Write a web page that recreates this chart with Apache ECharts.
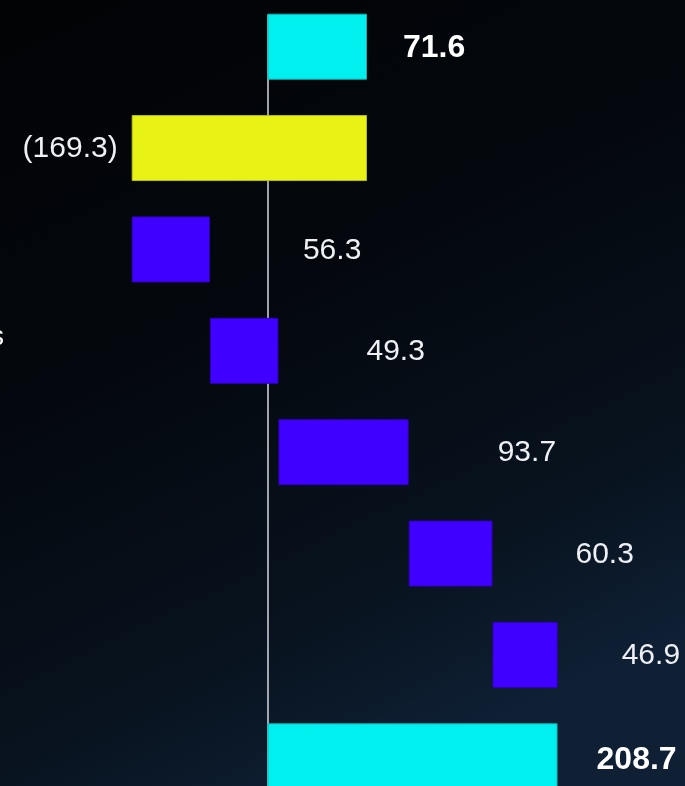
<!DOCTYPE html>
<html><head><meta charset="utf-8">
<script src="https://cdn.jsdelivr.net/npm/echarts@6/dist/echarts.min.js"></script>
<style>html,body{margin:0;padding:0;background:#04060a}#c{width:685px;height:786px}</style>
</head><body><div id="c"></div>
<script>
// ---- data ----
const categories = ['Opening', 'Decrease', 'Growth', 'Acquisitions', 'Pricing', 'Volume', 'Other', 'Closing'];
const values = [71.6, -169.3, 56.3, 49.3, 93.7, 60.3, 46.9, 208.7];
const isTotal = [true, false, false, false, false, false, false, true];
const labelTexts = ['71.6', '(169.3)', '56.3', '49.3', '93.7', '60.3', '46.9', '208.7'];

// ---- styling ----
const labelGap = [36, 14, 93, 88, 89, 83, 64, 39];
const COL_TOTAL = '#00f0f0', COL_NEG = '#e8f214', COL_POS = '#4000ff';
const BORD_TOTAL = '#0fb5b5', BORD_NEG = '#b8c010', BORD_POS = '#3000c0';
const FONT = '"Liberation Sans", Arial, Helvetica, sans-serif';
const xMin = -183.8, xMax = 300.4;

// waterfall bases
const bases = [];
let cum = 0;
values.forEach((v, i) => {
  if (isTotal[i]) { bases.push(0); cum = v; }
  else { bases.push(cum); cum += v; }
});

const mainData = values.map((v, i) => {
  const total = isTotal[i];
  const color = total ? COL_TOTAL : (v < 0 ? COL_NEG : COL_POS);
  const border = total ? BORD_TOTAL : (v < 0 ? BORD_NEG : BORD_POS);
  return {
    value: v,
    itemStyle: { color: color, borderColor: border, borderWidth: 1 },
    label: {
      show: true,
      position: v < 0 ? 'left' : 'right',
      distance: labelGap[i],
      formatter: labelTexts[i],
      color: total ? '#ffffff' : '#eef0f4',
      fontSize: total ? 32 : 30,
      fontWeight: total ? 'bold' : 'normal',
      fontFamily: FONT,
      offset: [0, total && i === values.length - 1 ? 4 : 1]
    }
  };
});

const chart = echarts.init(document.getElementById('c'), null, { renderer: 'canvas' });
chart.setOption({
  animation: false,
  backgroundColor: new echarts.graphic.LinearGradient(0, 0, 0.55, 1, [
    { offset: 0, color: '#020305' },
    { offset: 0.45, color: '#04080e' },
    { offset: 0.8, color: '#08131f' },
    { offset: 1, color: '#0f2035' }
  ]),
  grid: [
    { left: 12, right: 0, top: -4, height: 811, containLabel: false, outerBoundsMode: 'none' },
    { left: 12, right: 0, top: 15, bottom: 0, containLabel: false, outerBoundsMode: 'none' }
  ],
  xAxis: [
    { type: 'value', gridIndex: 0, min: xMin, max: xMax, show: false },
    { type: 'value', gridIndex: 1, min: xMin, max: xMax, axisLine: { show: false }, axisTick: { show: false }, axisLabel: { show: false }, splitLine: { show: false } }
  ],
  yAxis: [
    {
      type: 'category', gridIndex: 0, data: categories, inverse: true,
      axisLine: { show: false }, axisTick: { show: false }, splitLine: { show: false },
      axisLabel: {
        show: true, margin: 8, color: '#ffffff', fontSize: 28, fontFamily: FONT,
        verticalAlign: 'bottom',
        formatter: (val, idx) => (idx === 3 ? val : '')
      }
    },
    {
      type: 'value', gridIndex: 1, min: 0, max: 1,
      axisLine: { show: true, onZero: true, lineStyle: { color: '#c9ccd2', width: 1.6 } },
      axisTick: { show: false }, axisLabel: { show: false }, splitLine: { show: false }
    }
  ],
  series: [
    {
      type: 'line', xAxisIndex: 1, yAxisIndex: 1, data: [], silent: true
    },
    {
      name: 'base', type: 'bar', xAxisIndex: 0, yAxisIndex: 0,
      stack: 'wf', stackStrategy: 'all', barWidth: 66, silent: true,
      itemStyle: { color: 'rgba(0,0,0,0)', borderWidth: 0 },
      data: bases
    },
    {
      name: 'value', type: 'bar', xAxisIndex: 0, yAxisIndex: 0,
      stack: 'wf', stackStrategy: 'all', barWidth: 66, z: 3,
      data: mainData
    }
  ]
});
</script>
</body></html>
